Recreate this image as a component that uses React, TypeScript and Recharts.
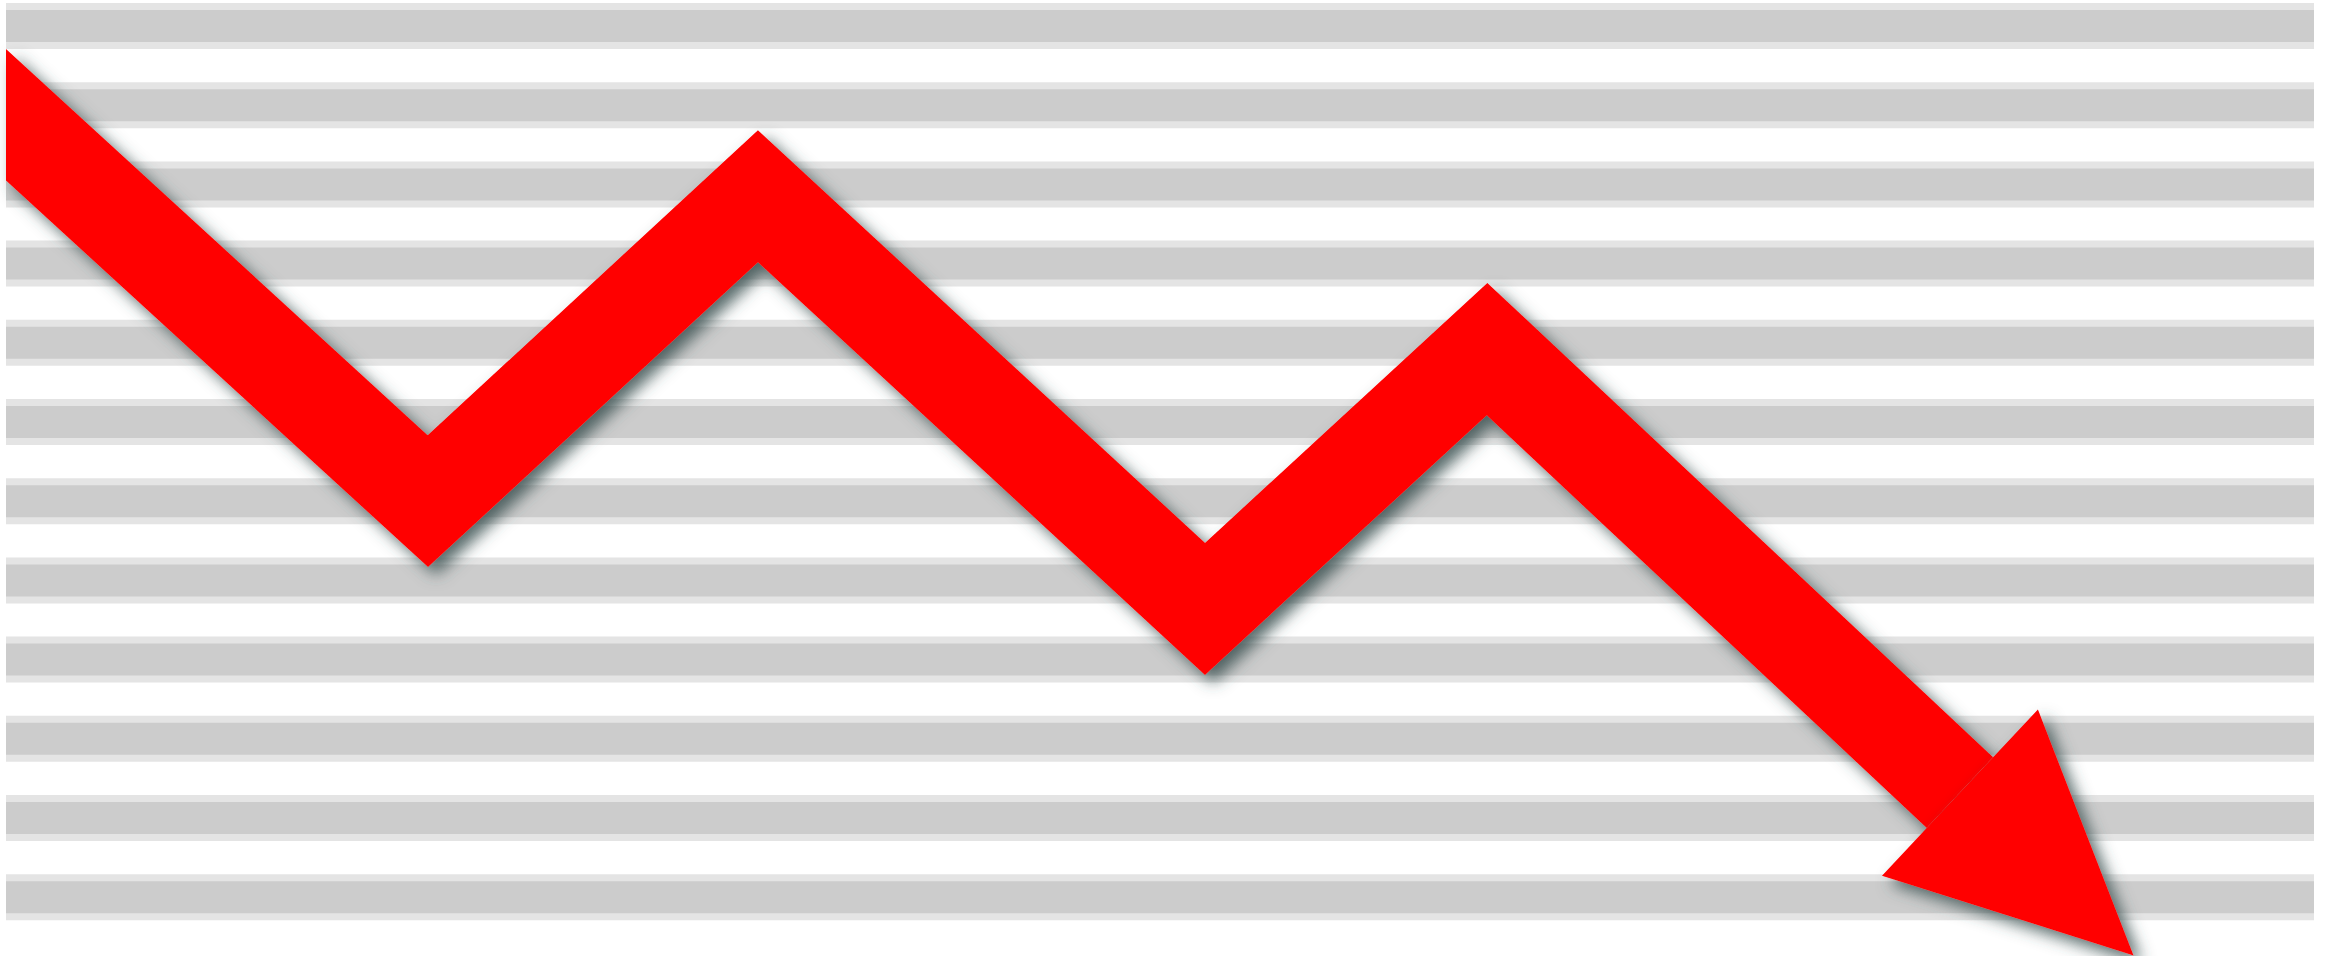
import React from "react";
import { LineChart, Line, XAxis, YAxis, ReferenceLine } from "recharts";

// values
const periods = [-3.0, 18.28, 32.58, 51.95, 64.17, 84.66];
const levels = [10.68, 5.0, 8.85, 3.64, 6.92, 1.32];
const stripeTicks = [0, 1, 2, 3, 4, 5, 6, 7, 8, 9, 10, 11];
const caption = "Profits of the company fell sharply over the last year";

const data = periods.map((t, i) => ({ t, v: levels[i] }));

const RED = "#ff0000";
const HEAD_LEN = 238;
const HEAD_HALF = 114;

export default function App() {
    // dots are drawn in order, keep their pixel spots to aim the arrow head
    const seen: { x: number; y: number }[] = [];
    const last = data.length - 1;

    const arrowDot = (p: any) => {
        seen[p.index] = { x: p.cx, y: p.cy };
        if (p.index !== last || !seen[last - 1]) return <g key={`d-${p.index}`} />;
        const prev = seen[last - 1];
        const a = Math.atan2(p.cy - prev.y, p.cx - prev.x);
        const c = Math.cos(a);
        const s = Math.sin(a);
        const tip = [p.cx + HEAD_LEN * c, p.cy + HEAD_LEN * s];
        const b1 = [p.cx - HEAD_HALF * s, p.cy + HEAD_HALF * c];
        const b2 = [p.cx + HEAD_HALF * s, p.cy - HEAD_HALF * c];
        return (
            <polygon
                key={`d-${p.index}`}
                points={`${b1.join(",")} ${tip.join(",")} ${b2.join(",")}`}
                fill={RED}
                filter="url(#ds)"
            />
        );
    };

    return (
        <div style={{ position: "relative", width: 2329, height: 956, overflow: "hidden", background: "#fff" }}>
            <style>{`body{margin:0} .arrow{filter:url(#ds)}`}</style>
            <svg width={0} height={0} style={{ position: "absolute" }}>
                <defs>
                    <filter id="ds" x="-10%" y="-10%" width="125%" height="125%">
                        <feDropShadow dx={8} dy={8} stdDeviation={8} floodColor="#3a5050" floodOpacity={0.85} />
                    </filter>
                </defs>
            </svg>
            <LineChart width={2329} height={956} data={data} margin={{ top: 0, right: 15, bottom: 0, left: 6 }}>
                <XAxis dataKey="t" type="number" domain={[0, 100]} allowDataOverflow hide />
                <YAxis type="number" domain={[-0.7424, 11.328]} allowDataOverflow hide />
                {stripeTicks.map(v => (
                    <ReferenceLine key={`e-${v}`} y={v} stroke="#e4e4e4" strokeWidth={46} />
                ))}
                {stripeTicks.map(v => (
                    <ReferenceLine key={`c-${v}`} y={v} stroke="#cccccc" strokeWidth={32} />
                ))}
                <Line
                    className="arrow"
                    type="linear"
                    dataKey="v"
                    stroke={RED}
                    strokeWidth={97}
                    strokeLinejoin="miter"
                    dot={arrowDot}
                    activeDot={false}
                    isAnimationActive={false}
                />
            </LineChart>
            <div
                style={{
                    position: "absolute",
                    left: 140,
                    top: 961,
                    fontFamily: "DejaVu Sans",
                    fontWeight: 700,
                    fontSize: 60,
                    lineHeight: 1,
                    whiteSpace: "nowrap",
                    color: "#000",
                }}
            >
                {caption}
            </div>
        </div>
    );
}
